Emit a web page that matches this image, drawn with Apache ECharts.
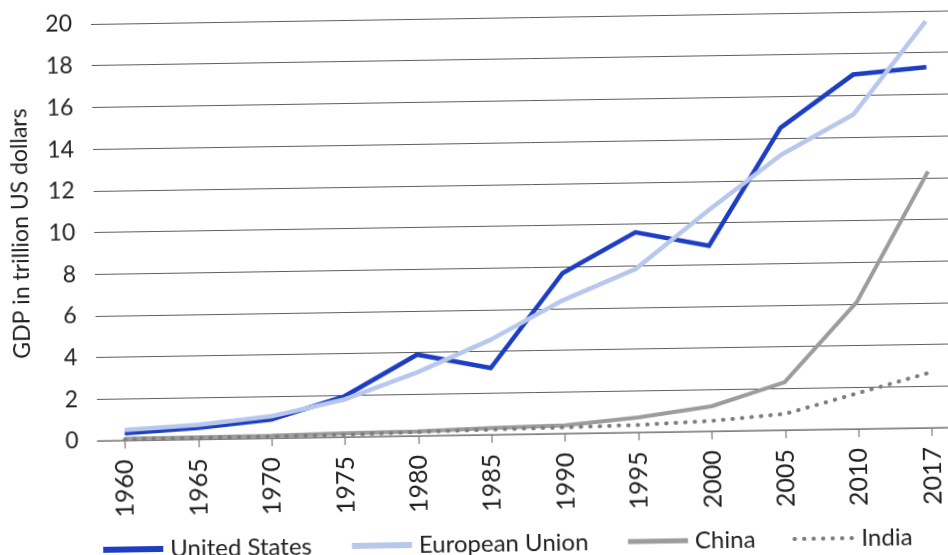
<!DOCTYPE html>
<html>
<head>
<meta charset="utf-8">
<script src="https://cdn.jsdelivr.net/npm/echarts@6/dist/echarts.min.js"></script>
<style>
  html, body { margin: 0; padding: 0; background: #ffffff; overflow: hidden; width: 948px; height: 555px; }
  #chart {
    position: absolute; left: 0; top: 0; width: 970px; height: 555px;
    transform-origin: 474px 277px;
    transform: rotate(-0.9deg);
  }
</style>
</head>
<body>
<div id="chart"></div>
<script>
// GDP in trillion US dollars, 1960–2017
const years = ['1960', '1965', '1970', '1975', '1980', '1985', '1990', '1995', '2000', '2005', '2010', '2017'];
const unitedStates = [0.35, 0.55, 0.9, 1.95, 3.9, 3.2, 7.7, 9.6, 8.9, 14.5, 17.0, 17.3];
const europeanUnion = [0.5, 0.7, 1.05, 1.8, 3.05, 4.55, 6.4, 7.85, 10.6, 13.2, 15.1, 19.5];
const china = [0.08, 0.1, 0.12, 0.18, 0.22, 0.32, 0.4, 0.72, 1.2, 2.3, 6.08, 12.3];
const india = [0.05, 0.07, 0.08, 0.11, 0.19, 0.25, 0.3, 0.36, 0.5, 0.78, 1.72, 2.67];
const yTicks = [0, 2, 4, 6, 8, 10, 12, 14, 16, 18, 20];

const FONT = 'Lato';
const TEXT = '#222222';
const idx = years.map((_, i) => i);
const pairs = arr => arr.map((v, i) => [i, v]);

const chart = echarts.init(document.getElementById('chart'), null, { renderer: 'canvas' });

chart.setOption({
  backgroundColor: '#ffffff',
  animation: false,
  grid: { left: 95, right: 0, top: 18, bottom: 120, containLabel: false },
  xAxis: {
    type: 'value',
    min: -0.373,
    max: 11.55,
    splitLine: { show: false },
    axisLine: { show: true, onZero: false, lineStyle: { color: '#8a8a8a', width: 1.5 } },
    axisTick: { show: true, customValues: idx, length: 8, lineStyle: { color: '#777777', width: 1.2 } },
    axisLabel: {
      customValues: idx,
      formatter: v => years[Math.round(v)],
      rotate: 90,
      margin: 19,
      color: TEXT,
      fontFamily: FONT,
      fontSize: 25
    }
  },
  yAxis: {
    type: 'value',
    min: yTicks[0],
    max: yTicks[yTicks.length - 1],
    interval: 2,
    name: 'GDP in trillion US dollars',
    nameLocation: 'middle',
    nameGap: 62,
    nameTextStyle: { color: TEXT, fontFamily: FONT, fontSize: 23 },
    axisLine: { show: false },
    axisTick: { show: false },
    axisLabel: { margin: 19, color: TEXT, fontFamily: FONT, fontSize: 23 },
    splitLine: { show: true, lineStyle: { color: '#5e5e5e', width: 1 } }
  },
  legend: {
    left: 91,
    top: 525,
    itemWidth: 60,
    itemHeight: 14,
    itemGap: 37,
    data: [
      { name: 'United States', lineStyle: { width: 6 } },
      { name: 'European Union', lineStyle: { width: 6 } },
      { name: 'China', lineStyle: { width: 5 } },
      { name: 'India', lineStyle: { width: 4 } }
    ],
    itemStyle: { opacity: 0 },
    textStyle: { color: TEXT, fontFamily: FONT, fontSize: 24, lineHeight: 28, padding: [0, 0, 0, 2] }
  },
  series: [
    {
      name: 'United States',
      type: 'line',
      data: pairs(unitedStates),
      symbol: 'none',
      lineStyle: { color: '#1d3ec2', width: 4.5, join: 'miter' },
      itemStyle: { color: '#1d3ec2' }
    },
    {
      name: 'European Union',
      type: 'line',
      data: pairs(europeanUnion),
      symbol: 'none',
      lineStyle: { color: '#b7c8ec', width: 4.5 },
      itemStyle: { color: '#b7c8ec' }
    },
    {
      name: 'China',
      type: 'line',
      data: pairs(china),
      symbol: 'none',
      lineStyle: { color: '#9c9c9c', width: 4 },
      itemStyle: { color: '#9c9c9c' }
    },
    {
      name: 'India',
      type: 'line',
      data: pairs(india),
      symbol: 'none',
      lineStyle: { color: '#7d7d7d', width: 4, type: [0.5, 9], cap: 'round' },
      itemStyle: { color: '#7d7d7d' }
    }
  ]
});
</script>
</body>
</html>
